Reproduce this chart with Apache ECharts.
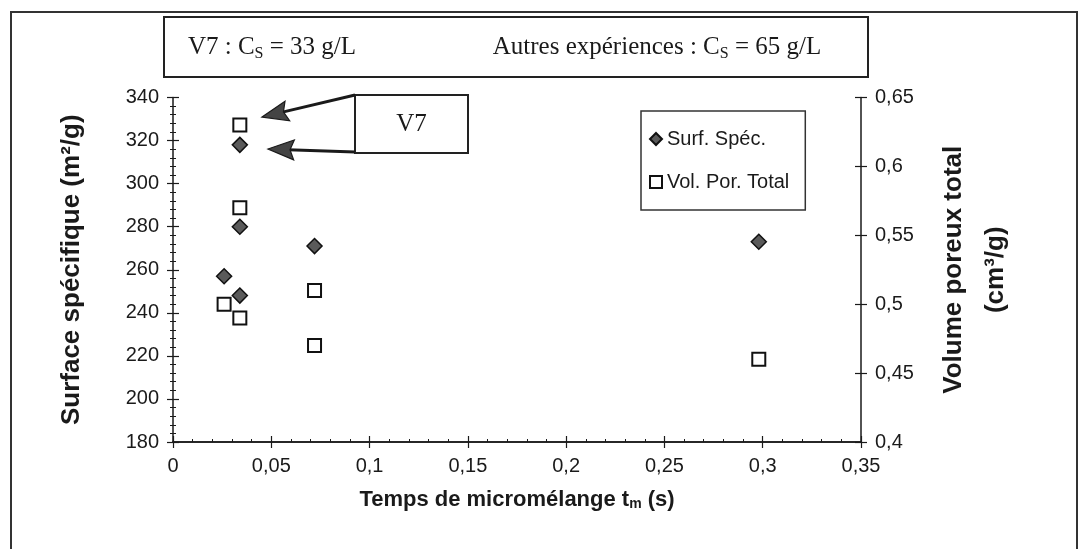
<!DOCTYPE html>
<html>
<head>
<meta charset="utf-8">
<script src="https://cdn.jsdelivr.net/npm/echarts@6/dist/echarts.min.js"></script>
<style>
html,body{margin:0;padding:0;background:#fff;}
#chart{width:1080px;height:549px;}
</style>
</head>
<body>
<div id="chart"></div>
<script>
// ---- data ----
var tmSurf = [0.026, 0.034, 0.034, 0.034, 0.072, 0.298];
var surf   = [257, 318, 280, 248, 271, 273];
var tmVol  = [0.026, 0.034, 0.034, 0.034, 0.072, 0.072, 0.298];
var vol    = [0.50, 0.63, 0.57, 0.49, 0.51, 0.47, 0.46];
var seriesNames = ['Surf. Spéc.', 'Vol. Por. Total'];
var xTitle = 'Temps de micromélange t{s|m} (s)';
var yLeftTitle = 'Surface spécifique (m²/g)';
var yRightTitle = 'Volume poreux total\n(cm³/g)';
var boxText1 = 'V7 : C{s|S} = 33 g/L';
var boxText2 = 'Autres expériences : C{s|S} = 65 g/L';
var calloutText = 'V7';

function pairs(xs, ys){ return xs.map(function(x,i){ return [x, ys[i]]; }); }
function comma(v){ return String(+v.toFixed(2)).replace('.', ','); }

var SANS = 'Liberation Sans, Arial, sans-serif';
var SERIF = 'Liberation Serif, Times New Roman, serif';
var INK = '#1a1a1a';

function arrow(x1, y1, x2, y2){
  var dx = x2 - x1, dy = y2 - y1, L = Math.sqrt(dx*dx + dy*dy);
  var ux = dx / L, uy = dy / L, hl = 26, hw = 10;
  var bx = x2 - ux*hl, by = y2 - uy*hl;
  return [
    {type:'line', shape:{x1:x1, y1:y1, x2:bx + ux*6, y2:by + uy*6}, style:{stroke:INK, lineWidth:3}},
    {type:'polygon', shape:{points:[[x2,y2],[bx - uy*hw, by + ux*hw],[bx + 4*ux, by + 4*uy],[bx + uy*hw, by - ux*hw]]},
     style:{fill:'#444', stroke:INK, lineWidth:1.2}}
  ];
}

function subRich(size){ return { s: { fontSize: size, verticalAlign: 'bottom', lineHeight: size, fontFamily: SERIF, fill: INK } }; }

var graphics = [
  {type:'rect', shape:{x:11, y:12, width:1066, height:545}, style:{fill:'none', stroke:'#333', lineWidth:2}, silent:true},
  {type:'rect', shape:{x:164, y:17, width:704, height:60}, style:{fill:'none', stroke:'#222', lineWidth:2}},
  {type:'text', x:272, y:47, style:{text:boxText1, font:'25px ' + SERIF, fill:INK, align:'center', verticalAlign:'middle', lineHeight:29, rich:subRich(16)}},
  {type:'text', x:657, y:47, style:{text:boxText2, font:'25px ' + SERIF, fill:INK, align:'center', verticalAlign:'middle', lineHeight:29, rich:subRich(16)}},
  {type:'rect', shape:{x:355, y:95, width:113, height:58}, style:{fill:'#fff', stroke:'#222', lineWidth:2}},
  {type:'text', x:411.5, y:124, style:{text:calloutText, font:'25px ' + SERIF, fill:INK, align:'center', verticalAlign:'middle'}}
].concat(arrow(355, 95, 262, 117)).concat(arrow(355, 152, 268, 149));

function xAxisBase(extra){
  var a = {
    type:'value', min:0, max:0.35, interval:0.05, position:'bottom',
    axisLine:{show:true, onZero:false, lineStyle:{color:INK, width:1.5}},
    splitLine:{show:false},
    minorTick:{show:false},
    axisTick:{show:true, length:6, lineStyle:{color:INK, width:1.2}}
  };
  for (var k in extra) a[k] = extra[k];
  return a;
}

var option = {
  animation:false,
  backgroundColor:'#fff',
  grid:{left:173, right:219, top:97.5, bottom:107, containLabel:false},
  legend:{
    orient:'vertical', left:641, top:111,
    padding:[18, 16, 18, 8], itemGap:23, itemWidth:12, itemHeight:12,
    borderColor:'#333', borderWidth:1.5, backgroundColor:'#fff',
    textStyle:{fontFamily:SANS, fontSize:20, color:INK},
    data:[{name:seriesNames[0], icon:'diamond'}, {name:seriesNames[1], icon:'rect'}]
  },
  xAxis:[
    xAxisBase({
      axisLabel:{formatter:comma, fontFamily:SANS, fontSize:20, color:INK, margin:14},
      name:xTitle, nameLocation:'middle', nameGap:47,
      nameTextStyle:{fontFamily:SANS, fontSize:22, fontWeight:'bold', color:INK,
        rich:{s:{fontFamily:SANS, fontSize:14, fontWeight:'bold', color:INK, verticalAlign:'bottom', lineHeight:14}}}
    }),
    xAxisBase({axisLabel:{show:false}, axisTick:{show:true, inside:true, length:6, lineStyle:{color:INK, width:1.2}},
      minorTick:{show:true, splitNumber:5, length:3, lineStyle:{color:INK}}})
  ],
  yAxis:[
    {type:'value', position:'left', min:180, max:340, interval:20,
     axisLine:{show:true, onZero:false, lineStyle:{color:INK, width:1.5}}, splitLine:{show:false},
     axisTick:{show:true, length:6, lineStyle:{color:INK, width:1.2}},
     minorTick:{show:true, splitNumber:5, length:3, lineStyle:{color:INK}},
     axisLabel:{fontFamily:SANS, fontSize:20, color:INK, margin:14},
     name:yLeftTitle, nameLocation:'middle', nameGap:88, nameRotate:90,
     nameTextStyle:{fontFamily:SANS, fontSize:26, fontWeight:'bold', color:INK}},
    {type:'value', position:'right', min:0.4, max:0.65, interval:0.05,
     axisLine:{show:true, onZero:false, lineStyle:{color:INK, width:1.5}}, splitLine:{show:false},
     axisTick:{show:true, length:6, lineStyle:{color:INK, width:1.2}},
     axisLabel:{formatter:comma, fontFamily:SANS, fontSize:20, color:INK, margin:14},
     name:yRightTitle, nameLocation:'middle', nameGap:72, nameRotate:90,
     nameTextStyle:{fontFamily:SANS, fontSize:26, fontWeight:'bold', color:INK, lineHeight:42, align:'center'}},
    {type:'value', position:'left', min:180, max:340, interval:20,
     axisLine:{show:false, onZero:false}, splitLine:{show:false}, axisLabel:{show:false},
     axisTick:{show:true, inside:true, length:6, lineStyle:{color:INK, width:1.2}},
     minorTick:{show:true, splitNumber:5, length:3, lineStyle:{color:INK}}},
    {type:'value', position:'right', min:0.4, max:0.65, interval:0.05,
     axisLine:{show:false, onZero:false}, splitLine:{show:false}, axisLabel:{show:false},
     axisTick:{show:true, inside:true, length:6, lineStyle:{color:INK, width:1.2}}}
  ],
  series:[
    {name:seriesNames[0], type:'scatter', xAxisIndex:0, yAxisIndex:0, symbol:'diamond', symbolSize:15,
     itemStyle:{color:'#5a5a5a', borderColor:'#111', borderWidth:1.5, opacity:1},
     data:pairs(tmSurf, surf), z:3},
    {name:seriesNames[1], type:'scatter', xAxisIndex:0, yAxisIndex:1, symbol:'rect', symbolSize:13,
     itemStyle:{color:'#fff', borderColor:'#111', borderWidth:2, opacity:1},
     data:pairs(tmVol, vol), z:3}
  ],
  graphic:graphics
};

var chart = echarts.init(document.getElementById('chart'), null, {renderer:'canvas'});
chart.setOption(option);
</script>
</body>
</html>
